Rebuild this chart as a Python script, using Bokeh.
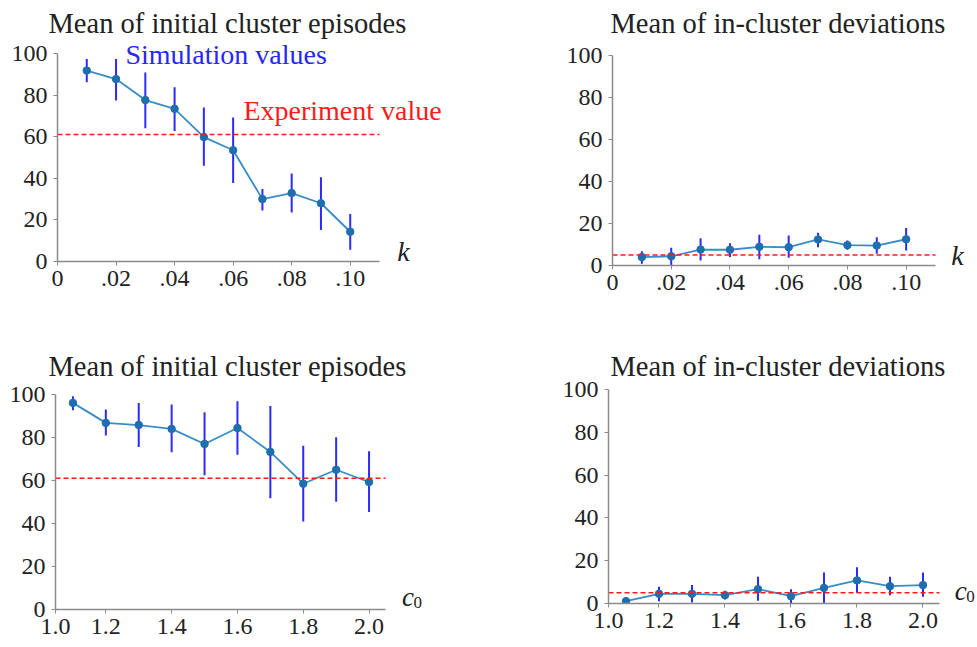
from bokeh.plotting import figure
from bokeh.layouts import column, row
from bokeh.models import Range1d, FixedTicker, Label
from bokeh.embed import file_html
from bokeh.resources import INLINE

# ---------------- data ----------------
k_vals = [0.01, 0.02, 0.03, 0.04, 0.05, 0.06, 0.07, 0.08, 0.09, 0.10]
k_ticks = [0, 0.02, 0.04, 0.06, 0.08, 0.10]
k_tick_labels = ["0", ".02", ".04", ".06", ".08", ".10"]
k_axis = (0.0, 0.11)

c0_vals = [1.1, 1.2, 1.3, 1.4, 1.5, 1.6, 1.7, 1.8, 1.9, 2.0]
c0_ticks = [1.047, 1.2, 1.4, 1.6, 1.8, 2.0]
c0_tick_labels = ["1.0", "1.2", "1.4", "1.6", "1.8", "2.0"]
c0_axis = (1.047, 2.05)

y_ticks = [0, 20, 40, 60, 80, 100]
y_axis = (0, 100)

# top-left: initial cluster episodes vs k
ep_k_mean = [91.8, 87.7, 77.6, 73.4, 59.8, 53.5, 30.0, 32.9, 28.0, 14.3]
ep_k_low = [86.2, 77.4, 64.1, 62.8, 46.0, 37.7, 24.5, 23.6, 15.2, 5.6]
ep_k_high = [97.4, 97.4, 90.9, 83.8, 74.0, 69.2, 34.9, 42.3, 40.5, 22.8]

# top-right: in-cluster deviations vs k
dev_k_mean = [4.0, 4.4, 7.6, 7.5, 8.9, 8.7, 12.4, 9.7, 9.5, 12.5]
dev_k_low = [0.8, 0.0, 2.4, 4.0, 3.0, 3.7, 8.7, 7.5, 5.6, 7.1]
dev_k_high = [6.8, 8.4, 13.0, 10.6, 14.6, 14.3, 15.6, 11.9, 13.5, 17.8]

# bottom-left: initial cluster episodes vs c0
ep_c_mean = [96.1, 86.8, 85.8, 84.0, 77.0, 84.4, 73.3, 58.5, 65.0, 59.3]
ep_c_low = [92.7, 80.9, 75.6, 73.1, 62.4, 72.0, 51.8, 40.9, 50.1, 45.3]
ep_c_high = [99.2, 93.0, 96.1, 95.3, 91.8, 96.9, 94.6, 76.2, 80.1, 73.6]

# bottom-right: in-cluster deviations vs c0
dev_c_mean = [1.1, 4.5, 4.5, 3.9, 6.7, 3.4, 7.3, 10.8, 8.1, 8.6]
dev_c_low = [0.6, 1.1, 0.5, 1.9, 1.25, 0.0, 0.0, 5.0, 3.9, 3.1]
dev_c_high = [1.6, 7.8, 8.6, 5.9, 12.5, 6.7, 14.5, 16.9, 12.5, 14.5]

exp_episodes = 61.0
exp_deviations = 5.0

title_episodes = "Mean of initial cluster episodes"
title_deviations = "Mean of in-cluster deviations"

# ---------------- style ----------------
FONT = "Liberation Serif"
LINE_C = "#3a8cc6"
DOT_C = "#1f6fae"
ERR_C = "#2b2bff"
EXP_C = "#ff1a1a"
AXIS_C = "#8a8a8a"
TXT_C = "#222222"


def make_panel(title, xs, mean, low, high, exp_val, xaxis, ticks, tick_labels,
               width, height, left, top, ax_w, ax_bottom, ax_h,
               title_offset, title_standoff):
    """The frame spans from the y axis to the right edge of the figure; the axis
    lines themselves are limited to the data extent with bounds."""
    fw = width - left
    fh = ax_bottom - top
    x0, x1 = xaxis
    xr_end = x0 + (x1 - x0) * fw / ax_w
    ppu = ax_h / (y_axis[1] - y_axis[0])
    p = figure(width=width, height=height, output_backend="svg",
               toolbar_location=None, title=title,
               x_range=Range1d(x0, xr_end),
               y_range=Range1d(y_axis[0], y_axis[0] + fh / ppu))
    p.frame_width = fw
    p.frame_height = fh
    p.min_border_left = left
    p.min_border_top = top
    p.min_border_right = 0
    p.min_border_bottom = height - ax_bottom
    p.outline_line_color = None
    p.background_fill_color = "white"
    p.border_fill_color = "white"
    p.grid.visible = False

    p.title.align = "left"
    p.title.offset = title_offset
    p.title.standoff = title_standoff
    p.title.text_font = FONT
    p.title.text_font_size = "28.5px"
    p.title.text_font_style = "normal"
    p.title.text_color = TXT_C

    for ax in (p.xaxis[0], p.yaxis[0]):
        ax.axis_line_color = AXIS_C
        ax.axis_line_width = 1.5
        ax.major_tick_line_color = AXIS_C
        ax.major_tick_in = 0
        ax.major_tick_out = 4
        ax.minor_tick_line_color = None
        ax.major_label_text_font = FONT
        ax.major_label_text_font_size = "24px"
        ax.major_label_text_color = TXT_C
    p.xaxis.bounds = xaxis
    p.xaxis.ticker = FixedTicker(ticks=ticks)
    p.xaxis.major_label_overrides = {t: l for t, l in zip(ticks, tick_labels)}
    p.xaxis.major_label_standoff = 5
    p.yaxis.bounds = y_axis
    p.yaxis.ticker = FixedTicker(ticks=y_ticks)
    p.yaxis.major_label_standoff = 6

    p.segment(x0=xs, y0=low, x1=xs, y1=high, line_color=ERR_C, line_width=2)
    p.line(xs, mean, line_color=LINE_C, line_width=1.8)
    p.scatter(xs, mean, size=7.5, fill_color=DOT_C, line_color=DOT_C)
    p.segment(x0=[x0], y0=[exp_val], x1=[x1], y1=[exp_val], line_color=EXP_C,
              line_dash="5 3", line_width=1.5)
    return p


def text(p, x, y, s, size, color=TXT_C, align="center", style="normal",
         x_offset=0, y_offset=0):
    p.add_layout(Label(x=x, y=y, x_offset=x_offset, y_offset=y_offset, text=s,
                       text_font=FONT, text_font_size=size, text_color=color,
                       text_align=align, text_baseline="middle",
                       text_font_style=style))


W1, W2 = 498, 478
H1, H2 = 331, 311

p1 = make_panel(title_episodes, k_vals, ep_k_mean, ep_k_low, ep_k_high, exp_episodes,
                k_axis, k_ticks, k_tick_labels, W1, H1, 57, 37, 322, 260, 208, -9, 0)
p2 = make_panel(title_deviations, k_vals, dev_k_mean, dev_k_low, dev_k_high,
                exp_deviations, k_axis, k_ticks, k_tick_labels, W2, H1, 114, 38,
                323, 265, 210, -2, 0)
p3 = make_panel(title_episodes, c0_vals, ep_c_mean, ep_c_low, ep_c_high, exp_episodes,
                c0_axis, c0_ticks, c0_tick_labels, W1, H2, 55, 45, 330, 273, 215, -7, 0)
p4 = make_panel(title_deviations, c0_vals, dev_c_mean, dev_c_low, dev_c_high,
                exp_deviations, c0_axis, c0_ticks, c0_tick_labels, W2, H2, 110, 50,
                331, 272, 214, 2, 0)

# annotations in the first panel
text(p1, 0.0232, 99.6, "Simulation values", "28px", color="#2626ff", align="left")
text(p1, 0.0635, 72.7, "Experiment value", "28px", color=EXP_C, align="left")

# axis variable names
text(p1, 0.1182, 0, "k", "28px", style="italic", y_offset=10.5)
text(p2, 0.1175, 0, "k", "28px", style="italic", y_offset=10.5)
for p, xc in ((p3, 2.118), (p4, 2.114)):
    text(p, xc, 0, "c", "27px", style="italic", y_offset=13)
    text(p, xc, 0, "0", "17px", x_offset=10, y_offset=7)

layout = column(row(p1, p2, spacing=0), row(p3, p4, spacing=0), spacing=0)

with open("out.html", "w") as f:
    f.write(file_html(layout, INLINE))
